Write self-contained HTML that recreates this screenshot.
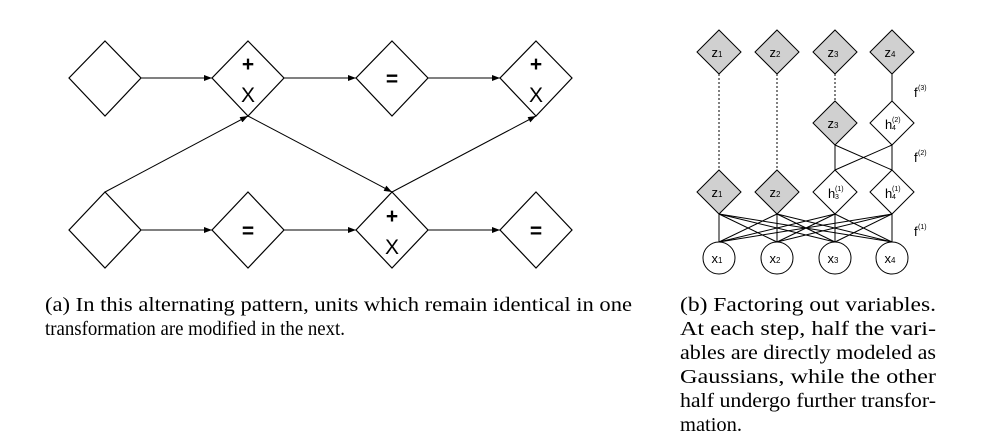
<!DOCTYPE html>
<html><head><meta charset="utf-8"><style>
html,body{margin:0;padding:0;background:#fff;width:988px;height:442px;overflow:hidden}
svg{display:block}
.cap{font-family:"Liberation Serif",serif;font-size:20.5px;fill:#000}
.s{font-family:"Liberation Sans",sans-serif;fill:#000}
</style></head><body>
<svg width="988" height="442" viewBox="0 0 988 442" xmlns="http://www.w3.org/2000/svg">
<defs>
<marker id="ah" markerWidth="8" markerHeight="6" refX="8" refY="3" orient="auto" markerUnits="userSpaceOnUse">
<path d="M0,0 L8,3 L0,6 z" fill="#000"/></marker>
</defs>
<g stroke="#000" stroke-width="1.2" fill="#fff">
<path d="M105,41 L141,78 L105,116 L69,78 Z"/>
<path d="M248,41 L284,78 L248,116 L212,78 Z"/>
<path d="M392,41 L428,78 L392,116 L356,78 Z"/>
<path d="M536,41 L572,78 L536,116 L500,78 Z"/>
<path d="M105,192 L141,230 L105,268 L69,230 Z"/>
<path d="M248,192 L284,230 L248,268 L212,230 Z"/>
<path d="M392,192 L428,230 L392,268 L356,230 Z"/>
<path d="M536,192 L572,230 L536,268 L500,230 Z"/>
</g>
<g stroke="#000" stroke-width="1" fill="none" marker-end="url(#ah)">
<line x1="141" y1="78" x2="212" y2="78"/>
<line x1="284" y1="78" x2="356" y2="78"/>
<line x1="428" y1="78" x2="500" y2="78"/>
<line x1="141" y1="230" x2="212" y2="230"/>
<line x1="284" y1="230" x2="356" y2="230"/>
<line x1="428" y1="230" x2="500" y2="230"/>
<line x1="105" y1="192" x2="248" y2="116"/>
<line x1="248" y1="116" x2="392" y2="192"/>
<line x1="392" y1="192" x2="536" y2="116"/>
</g>
<g class="s" font-size="21" text-anchor="middle">
<text x="248" y="71" font-weight="bold">+</text><text x="248" y="102">X</text>
<text x="536" y="71" font-weight="bold">+</text><text x="536" y="102">X</text>
<text x="392" y="223" font-weight="bold">+</text><text x="392" y="254">X</text>
<text x="392" y="86" font-weight="bold">=</text>
<text x="248" y="238" font-weight="bold">=</text>
<text x="536" y="238" font-weight="bold">=</text>
</g>

<g stroke="#000" stroke-width="1" fill="none">
<line x1="719" y1="74" x2="719" y2="170" stroke-dasharray="2,2"/>
<line x1="777" y1="74" x2="777" y2="170" stroke-dasharray="2,2"/>
<line x1="835" y1="74" x2="835" y2="101" stroke-dasharray="2,2"/>
<line x1="892" y1="74" x2="892" y2="101"/>
<line x1="835" y1="170" x2="835" y2="145"/>
<line x1="892" y1="170" x2="892" y2="145"/>
<line x1="835" y1="170" x2="892" y2="145"/>
<line x1="892" y1="170" x2="835" y2="145"/>
</g>
<g stroke="#000" stroke-width="1">
<line x1="719" y1="242" x2="719" y2="214"/><line x1="719" y1="242" x2="777" y2="214"/><line x1="719" y1="242" x2="835" y2="214"/><line x1="719" y1="242" x2="892" y2="214"/>
<line x1="777" y1="242" x2="719" y2="214"/><line x1="777" y1="242" x2="777" y2="214"/><line x1="777" y1="242" x2="835" y2="214"/><line x1="777" y1="242" x2="892" y2="214"/>
<line x1="835" y1="242" x2="719" y2="214"/><line x1="835" y1="242" x2="777" y2="214"/><line x1="835" y1="242" x2="835" y2="214"/><line x1="835" y1="242" x2="892" y2="214"/>
<line x1="892" y1="242" x2="719" y2="214"/><line x1="892" y1="242" x2="777" y2="214"/><line x1="892" y1="242" x2="835" y2="214"/><line x1="892" y1="242" x2="892" y2="214"/>
</g>
<g stroke="#000" stroke-width="1">
<path d="M719,30 L741,52 L719,74 L697,52 Z" fill="#d0d0d0"/>
<path d="M777,30 L799,52 L777,74 L755,52 Z" fill="#d0d0d0"/>
<path d="M835,30 L857,52 L835,74 L813,52 Z" fill="#d0d0d0"/>
<path d="M892,30 L914,52 L892,74 L870,52 Z" fill="#d0d0d0"/>
<path d="M835,101 L857,123 L835,145 L813,123 Z" fill="#d0d0d0"/>
<path d="M892,101 L914,123 L892,145 L870,123 Z" fill="#fff"/>
<path d="M719,170 L741,192 L719,214 L697,192 Z" fill="#d0d0d0"/>
<path d="M777,170 L799,192 L777,214 L755,192 Z" fill="#d0d0d0"/>
<path d="M835,170 L857,192 L835,214 L813,192 Z" fill="#fff"/>
<path d="M892,170 L914,192 L892,214 L870,192 Z" fill="#fff"/>
<circle cx="719" cy="258" r="16" fill="#fff"/>
<circle cx="777" cy="258" r="16" fill="#fff"/>
<circle cx="835" cy="258" r="16" fill="#fff"/>
<circle cx="892" cy="258" r="16" fill="#fff"/>
</g>
<g class="s" font-size="13" text-anchor="middle">
<text x="717" y="57">z<tspan font-size="8">1</tspan></text>
<text x="775" y="57">z<tspan font-size="8">2</tspan></text>
<text x="833" y="57">z<tspan font-size="8">3</tspan></text>
<text x="890" y="57">z<tspan font-size="8">4</tspan></text>
<text x="833" y="128">z<tspan font-size="8">3</tspan></text>
<text x="717" y="197">z<tspan font-size="8">1</tspan></text>
<text x="775" y="197">z<tspan font-size="8">2</tspan></text>
<text x="717" y="263">x<tspan font-size="8">1</tspan></text>
<text x="775" y="263">x<tspan font-size="8">2</tspan></text>
<text x="833" y="263">x<tspan font-size="8">3</tspan></text>
<text x="890" y="263">x<tspan font-size="8">4</tspan></text>
</g>
<g class="s" font-size="13">
<text x="885" y="129">h</text><text x="892" y="122" font-size="7">(2)</text><text x="892" y="130" font-size="7">4</text>
<text x="828" y="198">h</text><text x="835" y="191" font-size="7">(1)</text><text x="835" y="199" font-size="7">3</text>
<text x="885" y="198">h</text><text x="892" y="191" font-size="7">(1)</text><text x="892" y="199" font-size="7">4</text>
<text x="914" y="97">f</text><text x="918" y="90" font-size="7">(3)</text>
<text x="914" y="162">f</text><text x="918" y="155" font-size="7">(2)</text>
<text x="914" y="236">f</text><text x="918" y="229" font-size="7">(1)</text>
</g>

<text class="cap" x="45" y="311" textLength="587" lengthAdjust="spacingAndGlyphs">(a) In this alternating pattern, units which remain identical in one</text>
<text class="cap" x="45" y="335" textLength="300" lengthAdjust="spacingAndGlyphs">transformation are modified in the next.</text>

<text class="cap" x="680" y="311" textLength="256" lengthAdjust="spacingAndGlyphs">(b) Factoring out variables.</text>
<text class="cap" x="680" y="335" textLength="256" lengthAdjust="spacingAndGlyphs">At each step, half the vari-</text>
<text class="cap" x="680" y="359" textLength="256" lengthAdjust="spacingAndGlyphs">ables are directly modeled as</text>
<text class="cap" x="680" y="383" textLength="256" lengthAdjust="spacingAndGlyphs">Gaussians, while the other</text>
<text class="cap" x="680" y="407" textLength="256" lengthAdjust="spacingAndGlyphs">half undergo further transfor-</text>
<text class="cap" x="680" y="431">mation.</text>
</svg>
</body></html>
